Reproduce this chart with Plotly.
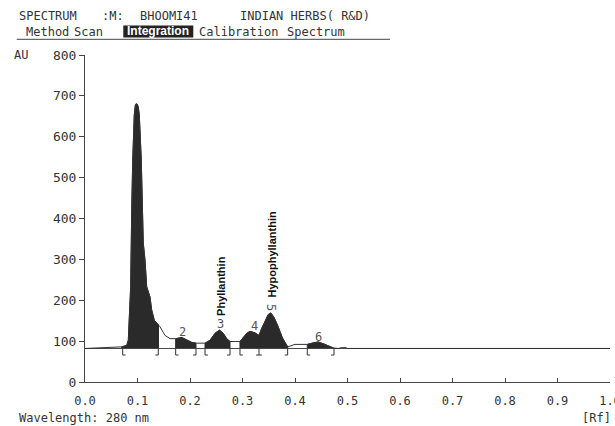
import plotly.graph_objects as go

# ---------------- data ----------------
rf = [0.000, 0.030, 0.050, 0.070, 0.0781, 0.0800, 0.0825, 0.0844, 0.0870, 0.0890,
      0.0895, 0.0909, 0.0939, 0.0960, 0.0980, 0.1000, 0.1015, 0.1034, 0.1072, 0.1091,
      0.1110, 0.1143, 0.1175, 0.1238, 0.1270, 0.1320, 0.1371, 0.1400, 0.1429, 0.1524,
      0.1619, 0.1727, 0.1777, 0.1842, 0.1937, 0.2032, 0.2114, 0.2200, 0.2286, 0.2381,
      0.2476, 0.2558, 0.2634, 0.2699, 0.2762, 0.2860, 0.2952, 0.3080, 0.3143, 0.3240,
      0.3314, 0.3365, 0.3430, 0.3490, 0.3540, 0.3600, 0.3680, 0.3760, 0.3860, 0.4000,
      0.4234, 0.4349, 0.4444, 0.4571, 0.4743, 0.4830, 0.4880, 0.4970, 0.5000, 1.0000]
au = [82, 83, 84, 86, 89, 92, 102, 144, 233, 421,
      458, 543, 654, 678, 681, 678, 672, 654, 543, 421,
      340, 298, 233, 208, 176, 151, 144, 140, 135, 114,
      106, 106, 107, 109, 103, 97, 95, 95, 95, 102,
      119, 127, 119, 106, 99, 99, 99, 119, 124, 120,
      114, 131, 151, 165, 169, 158, 135, 108, 86, 92,
      92, 96, 98, 92, 83, 82, 84, 84, 82, 82]

baseline_au = 82
peak_start = [0.070, 0.1727, 0.2286, 0.2952, 0.3314, 0.4234]
peak_end = [0.1400, 0.2114, 0.2762, 0.3314, 0.3860, 0.4743]
bracket_open = [0.0718, 0.1727, 0.2286, 0.2952, 0.4234]
bracket_close = [0.1396, 0.2114, 0.2762, 0.3860, 0.4743]
bracket_split = [0.3314]

peak_numbers = ["2", "3", "4", "5", "6"]
peak_num_rf = [0.186, 0.258, 0.3225, 0.3556, 0.4457]
peak_num_au = [122, 141, 137, 182, 110]
peak_num_angle = [0, 0, 0, 90, 0]

compound_names = ["Phyllanthin", "Hypophyllanthin"]
compound_rf = [0.259, 0.357]
compound_au = [235, 313]

x_ticks = [0.0, 0.1, 0.2, 0.3, 0.4, 0.5, 0.6, 0.7, 0.8, 0.9, 1.0]
x_ticktext = ["0.0", "0.1", "0.2", "0.3", "0.4", "0.5", "0.6", "0.7", "0.8", "0.9", "1.0"]
y_ticks = [0, 100, 200, 300, 400, 500, 600, 700, 800]

# ---------------- figure ----------------
W, H = 615, 426
L, R, T, B = 85, 5, 55, 44
PW, PH = W - L - R, H - T - B
MONO = "DejaVu Sans Mono"
TXT = "#333333"


def px(xp, yp):
    return (xp - L) / PW, (H - B - yp) / PH


fig = go.Figure()

# filled integrated peaks
for s, e in zip(peak_start, peak_end):
    xs = [s] + [x for x in rf if s <= x <= e] + [e]
    ys = [baseline_au] + [y for x, y in zip(rf, au) if s <= x <= e] + [baseline_au]
    fig.add_trace(go.Scatter(x=xs, y=ys, mode="lines", fill="toself",
                             fillcolor="#2a2a2a", line=dict(color="#2a2a2a", width=1),
                             hoverinfo="skip"))

# baseline
fig.add_trace(go.Scatter(x=[0, 1.0], y=[baseline_au, baseline_au], mode="lines",
                         line=dict(color="#444444", width=1), hoverinfo="skip"))
# densitogram curve
fig.add_trace(go.Scatter(x=rf, y=au, mode="lines",
                         line=dict(color="#333333", width=1), hoverinfo="skip"))

# integration brackets
bh = 66
foot = 0.0055
bx, by = [], []
for r in bracket_open:
    bx += [r, r, r + foot, None]
    by += [baseline_au, bh, bh, None]
for r in bracket_close:
    bx += [r, r, r - foot, None]
    by += [baseline_au, bh, bh, None]
for r in bracket_split:
    bx += [r, r, None, r - foot, r + foot, None]
    by += [baseline_au, bh, None, bh, bh, None]
fig.add_trace(go.Scatter(x=bx, y=by, mode="lines",
                         line=dict(color="#333333", width=1), hoverinfo="skip"))

annotations = []
for t, x, y, a in zip(peak_numbers, peak_num_rf, peak_num_au, peak_num_angle):
    annotations.append(dict(x=x, y=y, xref="x", yref="y", text=t, showarrow=False,
                            textangle=a, font=dict(family=MONO, size=12, color="#555555")))
for t, x, y in zip(compound_names, compound_rf, compound_au):
    annotations.append(dict(x=x, y=y, xref="x", yref="y", text="<b>" + t + "</b>",
                            showarrow=False, textangle=-90,
                            font=dict(family="Liberation Sans", size=11, color="#111111")))

header = [
    ("SPECTRUM", 16.7, 15.7), (":M:", 100, 15.7), ("BHOOMI41", 138.3, 15.7),
    ("INDIAN HERBS( R&D)", 238.3, 15.7),
    ("Method", 24, 31.7), ("Scan", 71.7, 31.7), ("Calibration", 196.7, 31.7),
    ("Spectrum", 285, 31.7),
    ("AU", 11.7, 55), ("Wavelength: 280 nm", 16.7, 418), ("[Rf]", 580, 418),
]
for t, xp, yp in header:
    ax, ay = px(xp, yp)
    annotations.append(dict(x=ax, y=ay, xref="paper", yref="paper", text=t,
                            showarrow=False, xanchor="left", yanchor="middle",
                            font=dict(family=MONO, size=12, color=TXT)))
ax, ay = px(158.3, 31.5)
annotations.append(dict(x=ax, y=ay, xref="paper", yref="paper", text="<b>Integration</b>",
                        showarrow=False, xanchor="center", yanchor="middle",
                        font=dict(family="Liberation Sans", size=12, color="#ffffff")))

x0, y0 = px(123.3, 37.5)
x1, y1 = px(193.3, 25.5)
u0, uy = px(16.7, 39.3)
u1, _ = px(390, 39.3)
shapes = [
    dict(type="rect", xref="paper", yref="paper", x0=x0, y0=y0, x1=x1, y1=y1,
         fillcolor="#222222", line=dict(width=0), layer="below"),
    dict(type="line", xref="paper", yref="paper", x0=u0, y0=uy, x1=u1, y1=uy,
         line=dict(color="#444444", width=1)),
]

fig.update_layout(
    width=W, height=H, margin=dict(l=L, r=R, t=T, b=B, autoexpand=False),
    paper_bgcolor="white", plot_bgcolor="white", showlegend=False,
    annotations=annotations, shapes=shapes,
    xaxis=dict(range=[0, 1.0], tickvals=x_ticks, ticktext=x_ticktext,
               ticks="inside", ticklen=4, tickcolor="#444444",
               showline=True, linecolor="#444444", linewidth=1,
               showgrid=False, zeroline=False, ticklabelstandoff=8,
               ticklabeloverflow="allow", automargin=False,
               tickfont=dict(family=MONO, size=12, color=TXT)),
    yaxis=dict(range=[0, 800], tickvals=y_ticks, ticks="outside", ticklen=5,
               tickcolor="#444444", showline=True, linecolor="#444444", linewidth=1,
               showgrid=False, zeroline=False, automargin=False,
               tickfont=dict(family=MONO, size=13, color=TXT)),
)

fig.write_html("out.html")
